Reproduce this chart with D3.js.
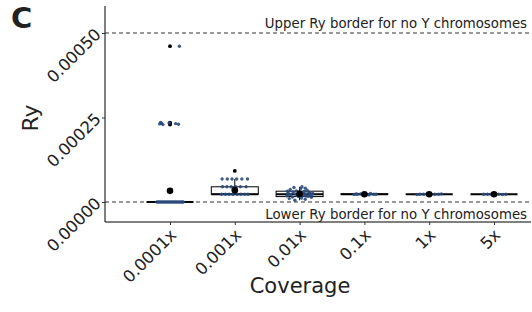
<!DOCTYPE html>
<html>
<head>
<meta charset="utf-8">
<script src="https://cdn.jsdelivr.net/npm/d3@7"></script>
<style>
  body { margin: 0; background: #fff; }
  text { font-family: "DejaVu Sans", sans-serif; fill: #222; }
</style>
</head>
<body>
<div id="chart"></div>
<script>
// categories and y ticks
const coverages = ["0.0001x", "0.001x", "0.01x", "0.1x", "1x", "5x"];
const yTicks = [0, 0.00025, 0.0005];
const borders = [0, 0.0005];

// box summary per coverage
const q1 = [0, 0.000023, 0.000016, 0.000023, 0.000023, 0.000023];
const med = [0, 0.000023, 0.000023, 0.000023, 0.000023, 0.000023];
const q3 = [0, 0.000045, 0.000032, 0.000024, 0.000023, 0.000023];
const whiskLo = [0, 0.000023, 0.000005, 0.000021, 0.000022, 0.000022];
const whiskHi = [0, 0.000068, 0.000045, 0.000026, 0.000024, 0.000024];
const means = [0.000033, 0.000035, 0.000024, 0.000023, 0.000023, 0.000023];
const outliers = [
  [0.000229, 0.000231, 0.000233, 0.000235, 0.000461],
  [0.000092],
  [], [], [], []
];

// jittered samples (value, jitter offset in box-widths)
const samples0 = [
  [0, -0.28], [0, -0.25], [0, -0.22], [0, -0.19], [0, -0.16], [0, -0.13], [0, -0.1], [0, -0.07],
  [0, -0.04], [0, -0.01], [0, 0.02], [0, 0.05], [0, 0.08], [0, 0.11], [0, 0.14], [0, 0.17],
  [0, 0.2], [0, 0.23], [0, 0.26], [0, 0.28],
  [0.000231, -0.22], [0.000233, -0.18], [0.000229, -0.15], [0.000235, -0.2],
  [0.000232, 0.12], [0.000230, 0.18], [0.000234, -0.02], [0.000461, 0.2]
];
const samples1 = [
  [0.000023, -0.28], [0.000023, -0.2], [0.000023, -0.12], [0.000023, -0.04], [0.000023, 0.05],
  [0.000023, 0.13], [0.000023, 0.21], [0.000023, 0.28],
  [0.000045, -0.26], [0.000045, -0.17], [0.000045, -0.08], [0.000045, 0.02], [0.000045, 0.12], [0.000045, 0.24],
  [0.000068, -0.27], [0.000068, -0.16], [0.000068, -0.06], [0.000068, 0.04], [0.000068, 0.15], [0.000068, 0.27]
];
const samples2 = [
  [0.000005, -0.1], [0.000008, 0.12], [0.000010, -0.22], [0.000012, 0.04], [0.000014, 0.25],
  [0.000015, -0.15], [0.000017, 0.18], [0.000018, -0.27], [0.000019, -0.05], [0.000020, 0.09],
  [0.000021, 0.22], [0.000022, -0.19], [0.000023, 0.0], [0.000024, -0.1], [0.000024, 0.14],
  [0.000025, 0.28], [0.000026, -0.24], [0.000027, 0.06], [0.000028, -0.02], [0.000029, 0.2],
  [0.000030, -0.14], [0.000031, 0.1], [0.000033, -0.07], [0.000035, 0.16], [0.000037, -0.2],
  [0.000039, 0.02], [0.000041, 0.12], [0.000043, -0.12], [0.000045, 0.05], [0.000022, 0.26],
  [0.000020, -0.25], [0.000026, 0.22], [0.000018, 0.15], [0.000032, -0.26], [0.000016, -0.02]
];
const samples3 = [
  [0.000022, -0.22], [0.000023, -0.15], [0.000024, -0.08], [0.000023, 0.0], [0.000022, 0.07],
  [0.000025, 0.13], [0.000023, 0.2], [0.000024, -0.18], [0.000021, 0.1], [0.000023, 0.25]
];
const samples4 = [
  [0.000023, -0.2], [0.000023, -0.12], [0.000024, -0.05], [0.000022, 0.04], [0.000023, 0.12],
  [0.000023, 0.2], [0.000024, 0.26], [0.000022, -0.26]
];
const samples5 = [
  [0.000023, -0.22], [0.000023, -0.14], [0.000023, -0.06], [0.000024, 0.03], [0.000023, 0.1],
  [0.000022, 0.18], [0.000023, 0.25]
];
const samples = [samples0, samples1, samples2, samples3, samples4, samples5];

const W = 532, H = 312;
const plot = { left: 105, right: 531, top: 6, bottom: 222 };
const boxW = 47;

const svg = d3.select("#chart").append("svg")
  .attr("width", W).attr("height", H);

const x = d3.scalePoint().domain(coverages).range([170, 494]);
const y = d3.scaleLinear().domain([0, 0.0005]).range([202, 33]);

// border lines
svg.selectAll("line.border").data(borders).join("line")
  .attr("class", "border")
  .attr("x1", plot.left).attr("x2", plot.right)
  .attr("y1", d => y(d)).attr("y2", d => y(d))
  .attr("stroke", "#333").attr("stroke-width", 1)
  .attr("stroke-dasharray", "4,3");

svg.append("text").attr("x", 527).attr("y", 28)
  .attr("text-anchor", "end").attr("font-size", 13.3)
  .text("Upper Ry border for no Y chromosomes");
svg.append("text").attr("x", 527).attr("y", 219)
  .attr("text-anchor", "end").attr("font-size", 13.3)
  .text("Lower Ry border for no Y chromosomes");

// boxes
const g = svg.append("g");
coverages.forEach((c, i) => {
  const cx = x(c);
  const bg = g.append("g");
  bg.append("line")
    .attr("x1", cx).attr("x2", cx)
    .attr("y1", y(whiskLo[i])).attr("y2", y(q1[i]))
    .attr("stroke", "#000");
  bg.append("line")
    .attr("x1", cx).attr("x2", cx)
    .attr("y1", y(q3[i])).attr("y2", y(whiskHi[i]))
    .attr("stroke", "#000");
  bg.append("rect")
    .attr("x", cx - boxW / 2).attr("width", boxW)
    .attr("y", y(q3[i])).attr("height", Math.max(0, y(q1[i]) - y(q3[i])))
    .attr("fill", "#fff").attr("stroke", "#000").attr("stroke-width", 1);
  bg.append("line")
    .attr("x1", cx - boxW / 2).attr("x2", cx + boxW / 2)
    .attr("y1", y(med[i])).attr("y2", y(med[i]))
    .attr("stroke", "#000").attr("stroke-width", 2.2);

  bg.selectAll("circle.out").data(outliers[i]).join("circle")
    .attr("class", "out")
    .attr("cx", cx).attr("cy", d => y(d)).attr("r", 1.9)
    .attr("fill", "#000");

  bg.selectAll("circle.pt").data(samples[i]).join("circle")
    .attr("class", "pt")
    .attr("cx", d => cx + d[1] * boxW).attr("cy", d => y(d[0])).attr("r", 1.7)
    .attr("fill", "#2a4a7c").attr("fill-opacity", 0.9);

  bg.append("circle")
    .attr("cx", cx).attr("cy", y(means[i])).attr("r", 3.3)
    .attr("fill", "#000");
});

// axes
const yAxis = d3.axisLeft(y).tickValues(yTicks).tickSize(3)
  .tickFormat(d3.format(".5f"));
const gy = svg.append("g").attr("transform", `translate(${plot.left},0)`).call(yAxis);
gy.select(".domain").attr("d", `M0,${plot.top}V${plot.bottom}`).attr("stroke", "#000");
gy.selectAll(".tick line").attr("stroke", "#333");
gy.selectAll(".tick text")
  .attr("font-size", 16.5).attr("fill", "#4d4d4d")
  .attr("x", -3).attr("y", 2).attr("dy", 0)
  .attr("text-anchor", "end")
  .attr("transform", "rotate(-45,-3,2)");

const xAxis = d3.axisBottom(x).tickSize(3);
const gx = svg.append("g").attr("transform", `translate(0,${plot.bottom})`).call(xAxis);
gx.select(".domain").attr("d", `M${plot.left},0H${plot.right}`).attr("stroke", "#000");
gx.selectAll(".tick line").attr("stroke", "#333");
gx.selectAll(".tick text")
  .attr("font-size", 16.5).attr("fill", "#4d4d4d")
  .attr("text-anchor", "end")
  .attr("x", 7).attr("y", 14).attr("dy", 0)
  .attr("transform", "rotate(-45,7,14)");

svg.append("text")
  .attr("transform", "translate(38,118) rotate(-90)")
  .attr("text-anchor", "middle").attr("font-size", 22)
  .text("Ry");
svg.append("text")
  .attr("x", 300).attr("y", 293)
  .attr("text-anchor", "middle").attr("font-size", 21)
  .text("Coverage");
svg.append("text")
  .attr("x", 11).attr("y", 28)
  .attr("font-size", 29).attr("font-weight", "bold").attr("fill", "#000")
  .text("C");
</script>
</body>
</html>
